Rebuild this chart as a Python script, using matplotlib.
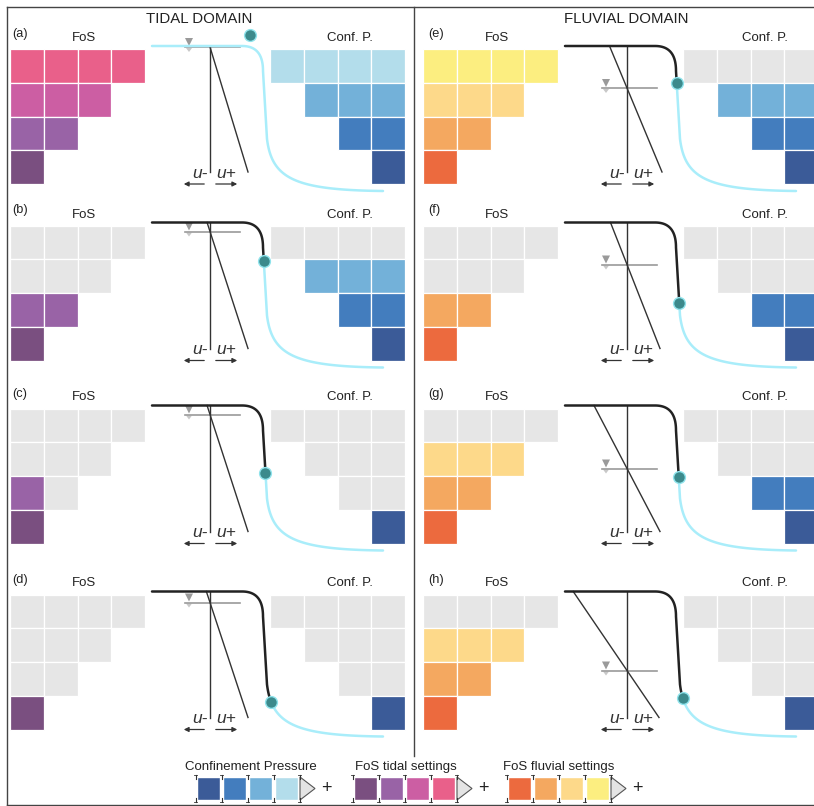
import numpy as np
import matplotlib
matplotlib.use("Agg")
import matplotlib.pyplot as plt
from matplotlib.patches import Rectangle, Polygon

plt.rcParams['font.family'] = ['Liberation Sans', 'DejaVu Sans']

# ---------------- data ----------------
domain_titles = ["TIDAL DOMAIN", "FLUVIAL DOMAIN"]
panel_labels = [["(a)", "(b)", "(c)", "(d)"], ["(e)", "(f)", "(g)", "(h)"]]
# cell states per row (top row first), 1 = coloured, 0 = grey
fos_states = [
    [["1111", "111", "11", "1"], ["0000", "000", "11", "1"],
     ["0000", "000", "10", "1"], ["0000", "000", "00", "1"]],
    [["1111", "111", "11", "1"], ["0000", "000", "11", "1"],
     ["0000", "111", "11", "1"], ["0000", "111", "11", "1"]],
]
conf_states = [
    [["1111", "111", "11", "1"], ["0000", "111", "11", "1"],
     ["0000", "000", "00", "1"], ["0000", "000", "00", "1"]],
    [["0000", "111", "11", "1"], ["0000", "000", "11", "1"],
     ["0000", "000", "11", "1"], ["0000", "000", "00", "1"]],
]
fos_tidal_colors = ["#E9608A", "#CC5EA3", "#9963A6", "#7A4F80"]    # top -> bottom row
fos_fluvial_colors = ["#FCEE80", "#FDD98A", "#F4A860", "#EC6A3E"]
conf_colors = ["#B3DDEB", "#73B1D9", "#437DBE", "#3B5B98"]
grey = "#E6E6E6"
water_table = [[-2, 6, 6, 8], [39, 39, 60, 76]]        # depth below bank top
water_level = [[-14, 35, 64, 107], [34, 77, 68, 103]]  # teal dot depth
slant_bottom = [[38, 38, 38, 38], [35, 33, 33, 32]]
legend_titles = ["Confinement Pressure", "FoS tidal settings", "FoS fluvial settings"]
legend_colors = [conf_colors[::-1], fos_tidal_colors[::-1], fos_fluvial_colors[::-1]]

# ---------------- layout ----------------
W, H = 814, 806
fig = plt.figure(figsize=(W / 100, H / 100), dpi=100)
ax = fig.add_axes([0, 0, 1, 1])
ax.set_xlim(0, W)
ax.set_ylim(H, 0)
ax.axis("off")

row_tops = [49, 225.5, 408.5, 594.5]
cell = 33.8
fos_left = [10, 423]
conf_left = [270, 683]
vline_x = [210, 627]
prof_x = [210, 623]
title_x = [199, 626]
label_x = [12, 428]
fos_cx = [84, 497]
conf_cx = [350, 765]
cyan = "#A9EDFA"

# frame
ax.plot([7, W], [7, 7], color="#444444", lw=1)
ax.plot([7, 7], [7, 805], color="#444444", lw=1)
ax.plot([7, W], [805, 805], color="#444444", lw=1)
ax.plot([414, 414], [7, 756], color="#444444", lw=1)


def cubic(p0, p1, p2, p3, n=60):
    t = np.linspace(0, 1, n)[:, None]
    p0, p1, p2, p3 = map(np.array, (p0, p1, p2, p3))
    return (1 - t) ** 3 * p0 + 3 * (1 - t) ** 2 * t * p1 + 3 * (1 - t) * t ** 2 * p2 + t ** 3 * p3


def profile():
    seg1 = np.array([[-58, -3], [32, -3]])
    seg2 = cubic((32, -3), (46, -3), (53, 5), (53, 22))
    seg3 = np.array([[53, 22], [57, 90]])
    seg4 = cubic((57, 90), (62, 130), (85, 141), (173, 142))
    return np.vstack([seg1, seg2, seg3, seg4])


prof = profile()
txt = "#222222"

for d in range(2):
    ax.text(title_x[d], 19, domain_titles[d], ha="center", va="center", fontsize=10.8, color=txt)
    fcols = fos_tidal_colors if d == 0 else fos_fluvial_colors
    for p in range(4):
        top = row_tops[p]
        ax.text(label_x[d], top - 15, panel_labels[d][p], ha="left", va="center", fontsize=9.2, color=txt)
        ax.text(fos_cx[d], top - 11, "FoS", ha="center", va="center", fontsize=9.5, color=txt)
        ax.text(conf_cx[d], top - 11, "Conf. P.", ha="center", va="center", fontsize=9.5, color=txt)
        # FoS grid (left aligned)
        for r, row in enumerate(fos_states[d][p]):
            for c, s in enumerate(row):
                col = fcols[r] if s == "1" else grey
                ax.add_patch(Rectangle((fos_left[d] + c * cell, top + r * cell), cell, cell,
                                       facecolor=col, edgecolor="white", lw=0.9))
        # Conf grid (right aligned)
        for r, row in enumerate(conf_states[d][p]):
            for c, s in enumerate(row):
                col = conf_colors[r] if s == "1" else grey
                ax.add_patch(Rectangle((conf_left[d] + (r + c) * cell, top + r * cell), cell, cell,
                                       facecolor=col, edgecolor="white", lw=0.9))
        # water table
        vx = vline_x[d]
        wt = top + water_table[d][p]
        ax.plot([vx - 25, vx + 30], [wt, wt], color="#9A9A9A", lw=1.2)
        ax.add_patch(Polygon([[vx - 25, wt - 9], [vx - 17, wt - 9], [vx - 21, wt - 1]],
                             closed=True, facecolor="#9A9A9A", edgecolor="none"))
        ax.add_patch(Polygon([[vx - 24, wt + 1], [vx - 18, wt + 1], [vx - 21, wt + 5]],
                             closed=True, facecolor="#C8C8C8", edgecolor="none"))
        # vertical and slanted lines
        ytop, ybot = top - 3, top + 123
        ax.plot([vx, vx], [ytop, ybot], color="#333333", lw=1)
        sb = slant_bottom[d][p]
        wtr = water_table[d][p]
        x_top = vx + sb * (-3 - wtr) / (123 - wtr)
        ax.plot([x_top, vx + sb], [ytop, ybot], color="#333333", lw=1)
        # arrows and u labels
        ay = top + 135
        ax.annotate("", xy=(vx - 29, ay), xytext=(vx - 3, ay),
                    arrowprops=dict(arrowstyle="-|>", color="#333333", lw=0.9, mutation_scale=7))
        ax.annotate("", xy=(vx + 30, ay), xytext=(vx + 3, ay),
                    arrowprops=dict(arrowstyle="-|>", color="#333333", lw=0.9, mutation_scale=7))
        ax.text(vx - 10, top + 124, "u-", ha="center", va="center", fontsize=12.5, style="italic", color="#333333")
        ax.text(vx + 16, top + 124, "u+", ha="center", va="center", fontsize=12.5, style="italic", color="#333333")
        # bank profile
        px = prof[:, 0] + prof_x[d]
        py = prof[:, 1] + top
        lvl = water_level[d][p]
        if lvl < 0:
            ax.plot(px, py, color=cyan, lw=1.8, solid_capstyle="round")
            dx, dy = prof_x[d] + 40, top + lvl
        else:
            yy = prof[:, 1]
            i = int(np.searchsorted(yy, lvl))
            i = max(1, min(i, len(yy) - 1))
            f = (lvl - yy[i - 1]) / (yy[i] - yy[i - 1]) if yy[i] != yy[i - 1] else 0
            dx = px[i - 1] + f * (px[i] - px[i - 1])
            dy = top + lvl
            ax.plot(np.r_[px[:i], dx], np.r_[py[:i], dy], color="#222222", lw=1.8, solid_capstyle="round")
            ax.plot(np.r_[dx, px[i:]], np.r_[dy, py[i:]], color=cyan, lw=1.8, solid_capstyle="round")
        ax.plot([dx], [dy], "o", ms=8.5, mfc="#3C8A8C", mec="#8FE3EC", mew=1, zorder=5)

# ---------------- legend ----------------
leg_x = [197, 354, 508]
leg_cx = [251, 406, 559]
bw, step, by0, by1 = 23, 26, 777, 800
for g in range(3):
    ax.text(leg_cx[g], 767, legend_titles[g], ha="center", va="center", fontsize=9.5, color=txt)
    x0 = leg_x[g]
    for k, col in enumerate(legend_colors[g]):
        ax.add_patch(Rectangle((x0 + k * step, by0), bw, by1 - by0, facecolor=col,
                               edgecolor="white", lw=1))
    for k in range(5):
        bx = x0 + k * step - 1.5
        for yy in (by0, by1):
            ax.plot([bx, bx], [yy - 2, yy + 2], color="#333333", lw=0.8)
            ax.plot([bx - 1.5, bx + 1.5], [yy - 2, yy - 2] if yy == by0 else [yy + 2, yy + 2],
                    color="#333333", lw=0.6)
    tx = x0 + 4 * step - 1
    ax.add_patch(Polygon([[tx, by0], [tx, by1], [tx + 15, (by0 + by1) / 2]], closed=True,
                         facecolor="#E4E4E4", edgecolor="#555555", lw=0.8))
    ax.text(tx + 26, (by0 + by1) / 2, "+", ha="center", va="center", fontsize=13, color=txt)

fig.savefig("out.png", dpi=100)
